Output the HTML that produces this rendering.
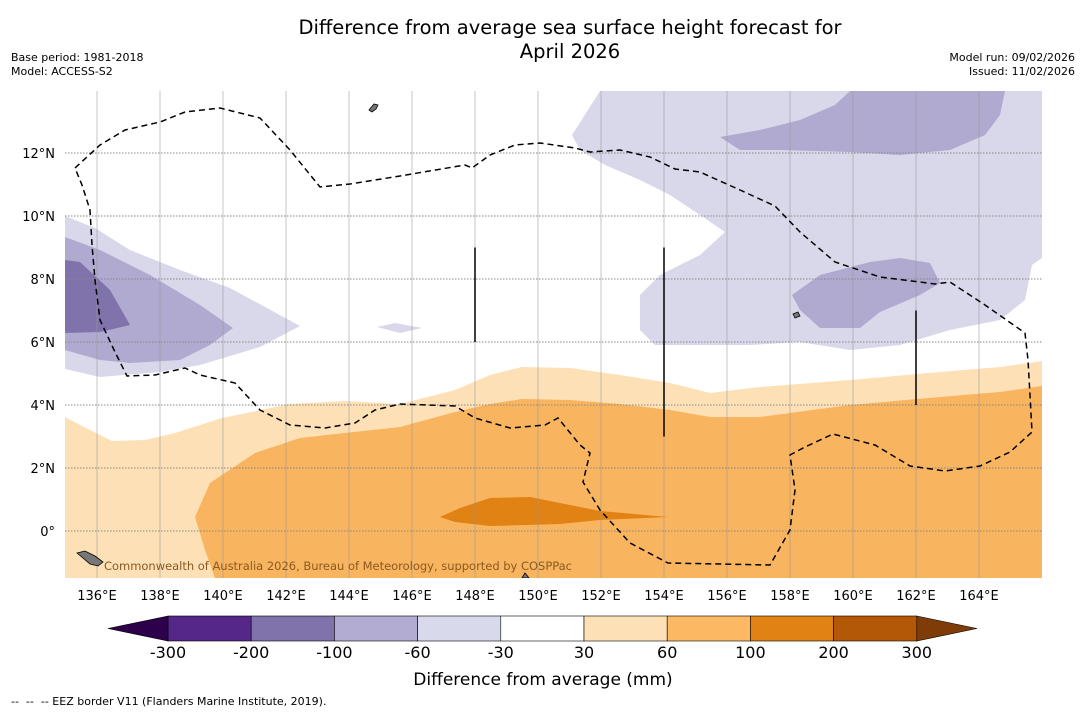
<!DOCTYPE html>
<html><head><meta charset="utf-8"><style>
body{margin:0;background:#fff;width:1085px;height:713px;overflow:hidden;font-family:"DejaVu Sans","Liberation Sans",sans-serif;}
.t{position:absolute;font-size:11px;line-height:14px;color:#000;}
</style></head><body>
<div style="position:absolute;left:0;width:1140px;top:16px;text-align:center;font-family:'DejaVu Sans',sans-serif;font-size:19.5px;line-height:24px;">Difference from average sea surface height forecast for<br>April 2026</div>
<div class="t" style="left:11px;top:51px;">Base period: 1981-2018<br>Model: ACCESS-S2</div>
<div class="t" style="right:10px;top:51px;text-align:right;">Model run: 09/02/2026<br>Issued: 11/02/2026</div>
<svg id="map" width="1085" height="713" style="position:absolute;left:0;top:0;font-family:'DejaVu Sans',sans-serif;"></svg>
<div class="t" style="left:11px;top:695px;font-size:11px;">--&nbsp; --&nbsp; -- EEZ border V11 (Flanders Marine Institute, 2019).</div>
<script>
const NS="http://www.w3.org/2000/svg";
const svg=document.getElementById('map');
const lonTicks=[136,138,140,142,144,146,148,150,152,154,156,158,160,162,164];
const latTicks=[0,2,4,6,8,10,12];
const levels=[-300,-200,-100,-60,-30,30,60,100,200,300];
const binColors=['#542788','#8073ac','#b2abd2','#d8daeb','#ffffff','#fee0b6','#fdb863','#e08214','#b35806'];
const extColors=['#2d004b','#7f3b08'];
const X=lon=>97+(lon-136)*31.5, Y=lat=>531-lat*31.5;
const px=(x)=>136+(x-97)/31.5, py=(y)=>(531-y)/31.5;
function P(pts){return pts.map(p=>[px(p[0]),py(p[1])]);}
const regions=[
 {c:'#fde0b6',pts:P([[65,417],[80,425],[112,441],[145,440],[175,433],[222,418],[290,404],[345,401],[400,404],[455,390],[490,375],[522,367],[570,368],[620,375],[670,383],[710,393],[760,387],[850,380],[940,372],[1000,367],[1042,361],[1042,578],[65,578]])},
 {c:'#f9b45f',pts:P([[205,550],[195,517],[210,483],[255,453],[300,438],[345,433],[400,427],[455,412],[490,404],[522,399],[570,400],[620,404],[670,410],[710,417],[760,417],[850,405],[940,397],[1000,392],[1042,386],[1042,578],[215,578]])},
 {c:'#e08214',pts:P([[440,517],[460,508],[490,498],[530,497],[560,503],[600,511],[668,517],[600,520],[560,524],[490,526],[455,522]])},
 {c:'#d8d8ea',pts:P([[65,216],[95,228],[130,250],[180,270],[230,288],[300,326],[260,347],[200,365],[160,372],[100,377],[65,369]])},
 {c:'#d8d8ea',pts:P([[377,327],[395,323],[422,328],[400,333]])},
 {c:'#d8d8ea',pts:P([[572,135],[600,91],[1042,91],[1042,258],[1032,265],[1025,300],[1000,320],[950,330],[900,345],[850,350],[800,342],[750,345],[700,345],[655,345],[640,330],[640,295],[660,275],[700,255],[725,232],[700,215],[670,195],[640,180],[605,165],[580,150]])},
 {c:'#b0a9d0',pts:P([[65,237],[100,250],[150,275],[200,305],[233,328],[210,345],[180,360],[130,363],[100,360],[65,350]])},
 {c:'#b0a9d0',pts:P([[720,137],[760,130],[800,120],[835,105],[850,91],[1005,91],[1000,115],[985,135],[950,150],[900,155],[850,152],[780,150],[740,150]])},
 {c:'#b0a9d0',pts:P([[792,295],[820,275],[870,262],[900,258],[930,263],[940,283],[920,295],[880,312],[860,328],[820,328],[800,310]])},
 {c:'#8073ac',pts:P([[65,260],[80,262],[110,290],[130,325],[100,332],[65,333]])}
];
const eez=P([[75,168],[100,145],[125,130],[160,122],[185,112],[220,108],[260,118],[290,150],[320,187],[350,184],[400,176],[465,165],[472,168],[490,155],[515,145],[540,143],[575,148],[590,152],[620,150],[650,157],[675,169],[700,172],[740,190],[775,206],[800,232],[835,262],[880,277],[935,284],[950,282],[985,305],[1025,333],[1028,360],[1030,395],[1032,432],[1010,452],[980,466],[945,471],[910,466],[875,445],[833,434],[805,447],[790,455],[795,490],[790,530],[770,565],[668,563],[630,543],[600,510],[583,482],[590,453],[580,445],[558,418],[545,425],[510,428],[475,418],[455,406],[400,404],[375,410],[355,423],[325,428],[290,425],[260,410],[235,383],[200,375],[185,368],[155,375],[127,376],[115,352],[100,320],[95,280],[92,245],[90,210],[82,185],[75,168]]);
const segs=[[148,9,6],[154,9,3],[162,7,4]];
function el(t,a,parent){const e=document.createElementNS(NS,t);for(const k in a)e.setAttribute(k,a[k]);(parent||svg).appendChild(e);return e;}
const clip=el('clipPath',{id:'cp'});el('rect',{x:65,y:91,width:977,height:487},clip);
const g=el('g',{'clip-path':'url(#cp)'});
regions.forEach(r=>{const e=el('polygon',{points:r.pts.map(p=>X(p[0])+','+Y(p[1])).join(' '),fill:r.c},g);

});
lonTicks.forEach(l=>{const e=el('line',{x1:X(l),x2:X(l),y1:91,y2:578,stroke:'#999','stroke-width':0.8,opacity:0.7},g);


const t=el('text',{x:X(l),y:600,'text-anchor':'middle','font-size':13});t.textContent=l+'°E';

});
latTicks.forEach(l=>{const e=el('line',{x1:65,x2:1042,y1:Y(l),y2:Y(l),stroke:'#888','stroke-width':1,'stroke-dasharray':'1.5,1.5'},g);


const t=el('text',{x:55,y:Y(l)+5,'text-anchor':'end','font-size':13});t.textContent=l===0?'0°':l+'°N';

});
const ez=el('polyline',{points:eez.map(p=>X(p[0])+','+Y(p[1])).join(' '),fill:'none',stroke:'#000','stroke-width':1.5,'stroke-dasharray':'6,4'},g);


segs.forEach(s=>{const e=el('line',{x1:X(s[0]),x2:X(s[0]),y1:Y(s[1]),y2:Y(s[2]),stroke:'#000','stroke-width':1.5},g);

});
const isl=el('path',{d:'M369,110 l5,-6 l4,1 l-2,4 l-4,3z M77,553 l8,-2 l10,5 l8,6 l-5,4 l-8,-2z M522,578 l3,-5 l4,5z M793,314 l5,-2 l2,4 l-5,2z',fill:'#777',stroke:'#000','stroke-width':0.8},g);


const cr=el('text',{x:104,y:570,'font-size':11.5,'textLength':468,fill:'#8a5a20'});cr.textContent='Commonwealth of Australia 2026, Bureau of Meteorology, supported by COSPPac';


const cb0=168,cbw=83.2,cy=616,ch=25;
binColors.forEach((c,i)=>{const e=el('rect',{x:cb0+i*cbw,y:cy,width:cbw,height:ch,fill:c,stroke:'#000','stroke-width':0.6});

});
const endX=cb0+binColors.length*cbw;
const t1=el('polygon',{points:`${cb0},${cy} 108,${cy+ch/2} ${cb0},${cy+ch}`,fill:extColors[0],stroke:'#000','stroke-width':0.6});


const t2=el('polygon',{points:`${endX},${cy} 977,${cy+ch/2} ${endX},${cy+ch}`,fill:extColors[1],stroke:'#000','stroke-width':0.6});


levels.forEach((v,i)=>{const t=el('text',{x:cb0+i*cbw,y:658,'text-anchor':'middle','font-size':16});t.textContent=v;

});
const ct=el('text',{x:543,y:685,'text-anchor':'middle','font-size':17});ct.textContent='Difference from average (mm)';


</script>
</body></html>
